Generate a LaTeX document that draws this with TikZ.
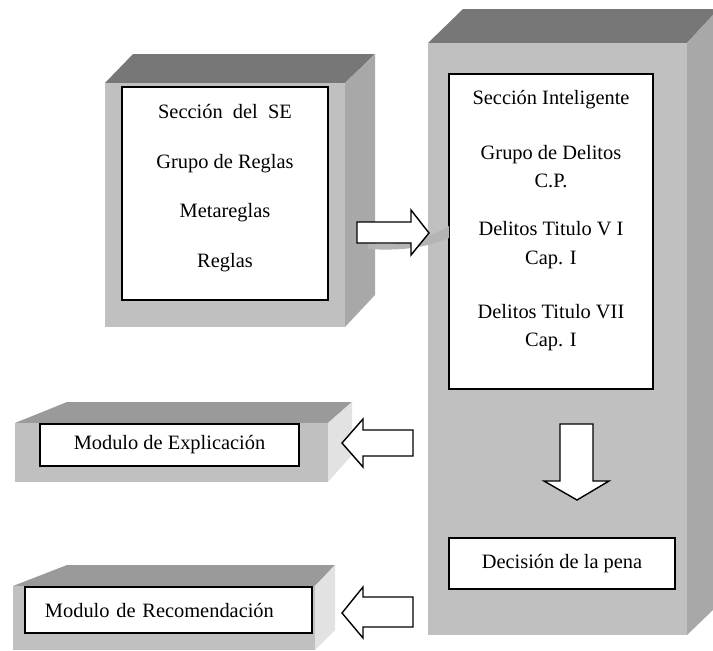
\documentclass[tikz,border=0pt]{standalone}
\usepackage{fontspec}
\setmainfont{Liberation Serif}
\usetikzlibrary{calc,positioning}
\definecolor{frente}{HTML}{C0C0C0}
\definecolor{techo}{HTML}{777777}
\definecolor{lado}{HTML}{A8A8A8}
\definecolor{techoclaro}{HTML}{9A9A9A}
\definecolor{ladoclaro}{HTML}{E2E2E2}
\definecolor{sombra}{HTML}{B4B4B4}

\begin{document}
\begin{tikzpicture}[x=0.5pt,y=-0.5pt,
  caja/.style={draw,fill=white,line width=0.75pt,inner sep=0pt,font=\fontsize{10.2}{14.3}\selectfont},
  texto/.style={align=center,inner sep=0pt,font=\fontsize{10.2}{14.3}\selectfont},
  flecha/.style={draw,fill=white,line width=0.7pt,line join=miter}]

    \useasboundingbox (0,0) rectangle (713,650);

	%Bloque grande
    \fill[techo] (428,43) -- (463,9) -- (713,9) -- (713,15) -- (687,43) -- cycle;
    \fill[lado] (687,43) -- (713,15) -- (713,610) -- (687,635) -- cycle;
    \fill[frente] (428,43) rectangle (687,635);

	%Bloque SE
    \fill[techo] (105,83) -- (133,54) -- (375,54) -- (345,83) -- cycle;
    \fill[lado] (345,83) -- (375,54) -- (375,295) -- (345,327) -- cycle;
    \fill[frente] (105,83) rectangle (345,327);

	%Bloques de salida
    \fill[techoclaro] (15,423) -- (67,402) -- (352,402) -- (328,423) -- cycle;
    \fill[ladoclaro] (328,423) -- (352,402) -- (352,455) -- (328,482) -- cycle;
    \fill[frente] (15,423) rectangle (328,482);

    \fill[techoclaro] (13,586) -- (67,565) -- (335,565) -- (315,586) -- cycle;
    \fill[ladoclaro] (315,586) -- (335,565) -- (335,630) -- (315,650) -- cycle;
    \fill[frente] (13,586) rectangle (315,650);

	%Cajas
    \node[caja,minimum width=103pt,minimum height=106.5pt] (seccionSE) at (225,193.5) {};
    \node[caja,minimum width=102pt,minimum height=157.5pt] (seccionInt) at (551,231.5) {};
    \node[caja,minimum width=129.5pt,minimum height=21pt] (explicacion) at (169.5,445) {Modulo de Explicación};
    \node[caja,text width=123.5pt,inner xsep=10pt,align=left,minimum height=23pt] (recomendacion) at (168.5,610) {Modulo de Recomendación};
    \node[caja,minimum width=113pt,minimum height=25.5pt] (decision) at (562,563.5) {Decisión de la pena};

	%Textos
    \node[texto,font=\fontsize{10.2}{24.7}\selectfont] (txtSE) at (seccionSE.center |- 0,188) {Sección\ \ del\ \ SE\\ Grupo de Reglas\\ Metareglas\\ Reglas};
    \node[texto] (txtInt) at (seccionInt.center |- 0,220.5) {Sección Inteligente\\[13.2pt] Grupo de Delitos\\ C.P.\\[9.7pt] Delitos Titulo V I\\ Cap. I\\[12.7pt] Delitos Titulo VII\\ Cap. I};

	%Sombra
    \fill[sombra] (368,243) .. controls (400,246) and (425,240) .. (449,226) -- (449,238) .. controls (425,248) and (400,251) .. (368,249) -- cycle;

	%Flechas
    \draw[flecha] (357,222) -- (411,222) -- (411,210) -- (429,233) -- (411,255) -- (411,243) -- (357,243) -- cycle;
    \draw[flecha] (560,424) -- (593,424) -- (593,481) -- (609,481) -- (577,500) -- (544,481) -- (560,481) -- cycle;
    \draw[flecha] (413,430) -- (363,430) -- (363,419) -- (342,443) -- (363,467) -- (363,456) -- (413,456) -- cycle;
    \draw[flecha] (413,597) -- (363,597) -- (363,587) -- (342,613) -- (363,638) -- (363,627) -- (413,627) -- cycle;

\end{tikzpicture}
\end{document}
